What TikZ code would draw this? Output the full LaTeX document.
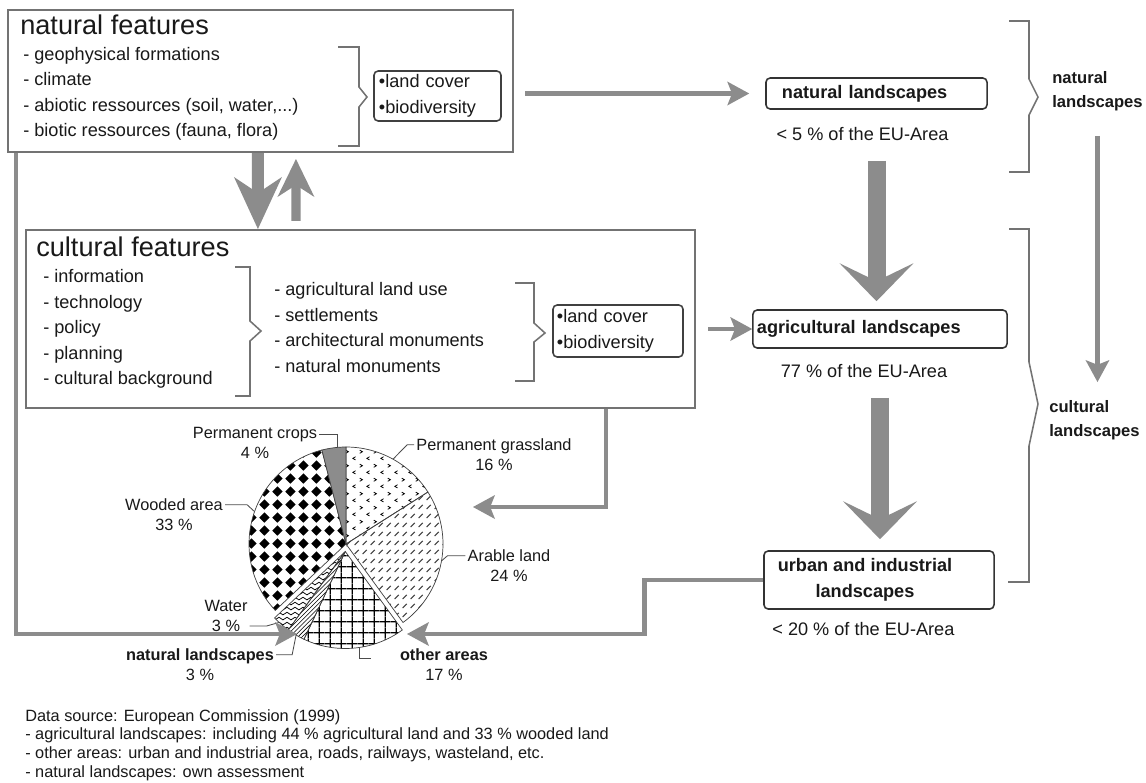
\documentclass[tikz,border=0pt]{standalone}
\usepackage{fontspec}
\setmainfont{Liberation Sans}
\usetikzlibrary{positioning,calc,arrows.meta,patterns}

\definecolor{arrowgray}{gray}{0.55}
\definecolor{framegray}{gray}{0.45}
\definecolor{textgray}{gray}{0.1}

\newcommand{\titlesize}{\fontsize{19.3}{23}\selectfont}
\newcommand{\listsize}{\fontsize{12.9}{18.1}\selectfont}
\newcommand{\sidesize}{\fontsize{11.8}{17}\selectfont}
\newcommand{\piesize}{\fontsize{11.6}{14.2}\selectfont}
\newcommand{\notesize}{\fontsize{11.6}{13.3}\selectfont}

% hatchings of the pie
\pgfdeclarepatternformonly{grassmarks}{\pgfpointorigin}{\pgfqpoint{10pt}{10pt}}{\pgfqpoint{10pt}{10pt}}{%
  \pgfsetlinewidth{0.6pt}%
  \pgfpathmoveto{\pgfqpoint{3.4pt}{0.8pt}}\pgfpathlineto{\pgfqpoint{1.4pt}{2pt}}\pgfpathlineto{\pgfqpoint{3.4pt}{3.2pt}}%
  \pgfpathmoveto{\pgfqpoint{6.6pt}{5.8pt}}\pgfpathlineto{\pgfqpoint{8.6pt}{7pt}}\pgfpathlineto{\pgfqpoint{6.6pt}{8.2pt}}%
  \pgfusepath{stroke}}
\pgfdeclarepatternformonly{arabledashes}{\pgfpointorigin}{\pgfqpoint{6pt}{6.5pt}}{\pgfqpoint{6pt}{6.5pt}}{%
  \pgfsetlinewidth{0.7pt}%
  \pgfpathmoveto{\pgfqpoint{1.2pt}{1.5pt}}\pgfpathlineto{\pgfqpoint{4.3pt}{4.7pt}}%
  \pgfusepath{stroke}}
\pgfdeclarepatternformonly{gridsquares}{\pgfpointorigin}{\pgfqpoint{8pt}{8pt}}{\pgfqpoint{8pt}{8pt}}{%
  \pgfsetlinewidth{0.85pt}%
  \pgfpathmoveto{\pgfqpoint{4pt}{0pt}}\pgfpathlineto{\pgfqpoint{4pt}{8pt}}%
  \pgfpathmoveto{\pgfqpoint{0pt}{4pt}}\pgfpathlineto{\pgfqpoint{8pt}{4pt}}%
  \pgfusepath{stroke}}
\pgfdeclarepatternformonly{wavelines}{\pgfpointorigin}{\pgfqpoint{6pt}{3.5pt}}{\pgfqpoint{6pt}{3.5pt}}{%
  \pgfsetlinewidth{0.55pt}%
  \pgfpathmoveto{\pgfqpoint{0pt}{1.75pt}}%
  \pgfpathcurveto{\pgfqpoint{1pt}{3pt}}{\pgfqpoint{2pt}{3pt}}{\pgfqpoint{3pt}{1.75pt}}%
  \pgfpathcurveto{\pgfqpoint{4pt}{0.5pt}}{\pgfqpoint{5pt}{0.5pt}}{\pgfqpoint{6pt}{1.75pt}}%
  \pgfusepath{stroke}}
\pgfdeclarepatternformonly{wooddiamonds}{\pgfpointorigin}{\pgfqpoint{9.2pt}{9.2pt}}{\pgfqpoint{9.2pt}{9.2pt}}{%
  \pgfpathmoveto{\pgfqpoint{4.6pt}{0.9pt}}\pgfpathlineto{\pgfqpoint{8.3pt}{4.6pt}}%
  \pgfpathlineto{\pgfqpoint{4.6pt}{8.3pt}}\pgfpathlineto{\pgfqpoint{0.9pt}{4.6pt}}\pgfpathclose
  \pgfusepath{fill}}

\begin{document}
\begin{tikzpicture}[x=0.025cm, y=-0.025cm,
  every node/.style={text=textgray},
  featbox/.style={draw=framegray, line width=1.4pt, inner sep=0pt},
  coverbox/.style={draw=black!75, line width=1.1pt, rounded corners=3pt, font=\listsize, align=left, inner ysep=0pt},
  landbox/.style={draw=black!80, line width=1.1pt, rounded corners=3pt, font=\listsize\bfseries, align=left, inner ysep=0pt},
  headline/.style={font=\titlesize, inner sep=0pt, anchor=west},
  itemlist/.style={font=\listsize, align=left, inner sep=0pt, anchor=north west},
  sidelbl/.style={font=\sidesize\bfseries, align=left, inner sep=0pt, anchor=north west},
  sharelbl/.style={font=\listsize, inner sep=0pt},
  pielbl/.style={font=\piesize, align=center, inner sep=0pt},
  brace/.style={draw=framegray, line width=1.1pt},
  leader/.style={draw=black!70, line width=0.6pt},
  slice/.style={draw=black!75, line width=0.5pt},
  bigarrow/.style={draw=arrowgray, line width=0.45cm, -{Stealth[length=0.95cm, width=1.85cm, inset=0.45cm, line width=0pt]}},
  downarrow/.style={draw=arrowgray, line width=0.3cm, -{Stealth[length=1.3cm, width=1.2cm, inset=0.4cm, line width=0pt]}},
  uparrow/.style={draw=arrowgray, line width=0.23cm, -{Stealth[length=0.95cm, width=0.925cm, inset=0.3cm, line width=0pt]}},
  flowarrow/.style={draw=arrowgray, line width=0.12cm, -{Stealth[length=0.55cm, width=0.6cm, inset=0.12cm, line width=0pt]}}
]
\fill[white] (0,0) rectangle (1146,783);
\useasboundingbox (0,0) rectangle (1146,783);

\node[featbox, minimum width=12.625cm, minimum height=3.55cm] (natfeat) at (260.5,81) {};
\node[headline] (nattitle) at (20,25) {natural features};
\node[itemlist] (natlist) at (23,47) {- geophysical formations\\- climate\\- abiotic ressources (soil, water,...)\\- biotic ressources (fauna, flora)};
\node[coverbox, minimum height=1.25cm, text width=2.925cm, inner xsep=0.125cm] (natcover) at (437.5,96) {\textbullet land cover\\\textbullet biodiversity};
\draw[brace] (338,47) -- (359,47) -- (359,87) -- (367,97) -- (359,107) -- (359,146) -- (338,146);

\node[featbox, minimum width=16.725cm, minimum height=4.45cm] (cultfeat) at (360.5,319) {};
\node[headline] (culttitle) at (36,247) {cultural features};
\node[itemlist] (cultlist) at (43,269.5) {- information\\- technology\\- policy\\- planning\\- cultural background};
\node[itemlist] (uselist) at (274,282.5) {- agricultural land use\\- settlements\\- architectural monuments\\- natural monuments};
\node[coverbox, minimum height=1.3cm, text width=3.05cm, inner xsep=0.1cm] (cultcover) at (618,331) {\textbullet land cover\\\textbullet biodiversity};
\draw[brace] (235,267) -- (250,267) -- (250,321) -- (261,331) -- (250,341) -- (250,396) -- (235,396);
\draw[brace] (515,283) -- (534,283) -- (534,323) -- (545,333) -- (534,342) -- (534,381) -- (515,381);

\draw[downarrow] ($(natfeat.south west)+(251,0)$) -- ($(cultfeat.north west)+(233,0)$);
\draw[uparrow] ($(cultfeat.north west)+(271,-8)$) -- ($(natfeat.south west)+(289,6)$);

\node[landbox, minimum height=0.775cm, text width=4.725cm, inner xsep=0.4cm] (natland) at (876.5,93.5) {natural landscapes};
\node[sharelbl, below=0.44cm of natland, xshift=-0.35cm] (natshare) {< 5 \% of the EU-Area};
\node[landbox, minimum height=0.95cm, text width=6.15cm, inner xsep=0.1cm] (agri) at (880,329) {agricultural landscapes};
\node[sharelbl, below=0.385cm of agri, xshift=-0.4cm] (agrishare) {77 \% of the EU-Area};
\node[landbox, minimum width=5.75cm, minimum height=1.45cm,
  label={[font=\listsize\bfseries, align=center, xshift=-0.35cm]center:urban and industrial\\landscapes}] (urban) at (879,580) {};
\node[sharelbl, below=0.31cm of urban, xshift=-0.39cm] (urbanshare) {< 20 \% of the EU-Area};

\draw[flowarrow] ($(natfeat.east |- natland.west)+(11,0)$) -- ($(natland.west)+(-16,0)$);
\draw[flowarrow] ($(cultfeat.east |- agri.west)+(12,0)$) -- (agri.west);
\draw[bigarrow, shorten <=1.275cm, shorten >=0.2cm] (natland.south) -- (natland.south |- agri.north);
\draw[bigarrow, shorten <=1.225cm, shorten >=0.275cm] (agri.south) -- (agri.south |- urban.north);

\draw[brace] (1009,21) -- (1029,21) -- (1029,79) -- (1038,97) -- (1029,115) -- (1029,172) -- (1009,172);
\draw[brace] (1009,229) -- (1029,229) -- (1029,362) -- (1038,404) -- (1029,446) -- (1029,582) -- (1008,582);
\node[sidelbl] (natlbl) at (1052,71) {natural\\landscapes};
\node[sidelbl] (cultlbl) at (1049,400) {cultural\\landscapes};
\draw[flowarrow] ($(natlbl.south)+(0,25)$) -- ($(natlbl.south |- cultlbl.north)+(0,-18)$);

\coordinate (pie) at (346,544);
\coordinate (piedrop) at ($(pie)+(-0.7,7.5)$);
\draw[slice, pattern=grassmarks] (pie) -- ++(-90:97) arc[start angle=-90, end angle=-32.4, radius=97] -- cycle;
\draw[slice, pattern=arabledashes, pattern color=black!75] (pie) -- ++(-32.4:97) arc[start angle=-32.4, end angle=54, radius=97] -- cycle;
\draw[slice, pattern=gridsquares] (piedrop) -- ++(54:97) arc[start angle=54, end angle=115.2, radius=97] -- cycle;
\draw[slice, pattern=north east lines] (piedrop) -- ++(115.2:97) arc[start angle=115.2, end angle=126, radius=97] -- cycle;
\draw[slice, pattern=wavelines] (piedrop) -- ++(126:97) arc[start angle=126, end angle=136.8, radius=97] -- cycle;
\draw[slice, pattern=wooddiamonds] (pie) -- ++(136.8:97) arc[start angle=136.8, end angle=255.6, radius=97] -- cycle;
\filldraw[slice, fill=arrowgray] (pie) -- ++(255.6:97) arc[start angle=255.6, end angle=270, radius=97] -- cycle;

\node[pielbl] (pcrops) at (255,443) {Permanent crops\\4 \%};
\node[pielbl] (pgrass) at (494,455) {Permanent grassland\\16 \%};
\node[pielbl] (pwood) at (174,515) {Wooded area\\33 \%};
\node[pielbl] (parable) at (509,566) {Arable land\\24 \%};
\node[pielbl] (pwater) at (226,616) {Water\\3 \%};
\node[pielbl] (pnatland) at (200,665) {\textbf{natural landscapes}\\3 \%};
\node[pielbl] (pother) at (444,665) {\textbf{other areas}\\17 \%};

\coordinate (ecrops) at (337,448);
\coordinate (egrass) at ($(pie)+(-61:97)$);
\coordinate (ewood) at ($(pie)+(199.5:97)$);
\coordinate (earable) at ($(pie)+(10:97)$);
\coordinate (ewater) at ($(piedrop)+(133:97)$);
\coordinate (enat) at ($(piedrop)+(120.5:97)$);
\coordinate (eother) at ($(piedrop)+(81.6:97)$);
\draw[leader] ($(pcrops.north east)+(2,7)$) -| (ecrops);
\draw[leader] ($(pgrass.north west)+(-2,6)$) -- ++(-7,0) -- (egrass);
\draw[leader] ($(pwood.north east)+(2,6)$) -- ++(22,0) -- (ewood);
\draw[leader] ($(parable.north west)+(-2,6)$) -- ++(-18,0) -- (earable);
\draw[leader] ($(pwater.south east)+(2,-6)$) -- ++(17,0) -- (ewater);
\draw[leader] ($(pnatland.north east)+(2,6)$) -- ++(16,0) -- (enat);
\draw[leader] (eother) -- ++(0,11) -- ++(12,0);

\coordinate (tipnat) at (297,634);
\coordinate (tipcult) at (473,507);
\coordinate (tipurban) at (407,634);
\draw[flowarrow] ($(natfeat.south west)+(9,0)$) |- (tipnat);
\draw[flowarrow] ($(cultfeat.south east)+(-90,0)$) |- (tipcult);
\draw[flowarrow] (urban.west) -- ++(-119,0) |- (tipurban);

\node[font=\notesize, align=left, inner sep=0pt, anchor=north west] (source) at (25,709)
  {Data source: European Commission (1999)\\- agricultural landscapes: including 44 \% agricultural land and 33 \% wooded land\\- other areas: urban and industrial area, roads, railways, wasteland, etc.\\- natural landscapes: own assessment};
\end{tikzpicture}
\end{document}
